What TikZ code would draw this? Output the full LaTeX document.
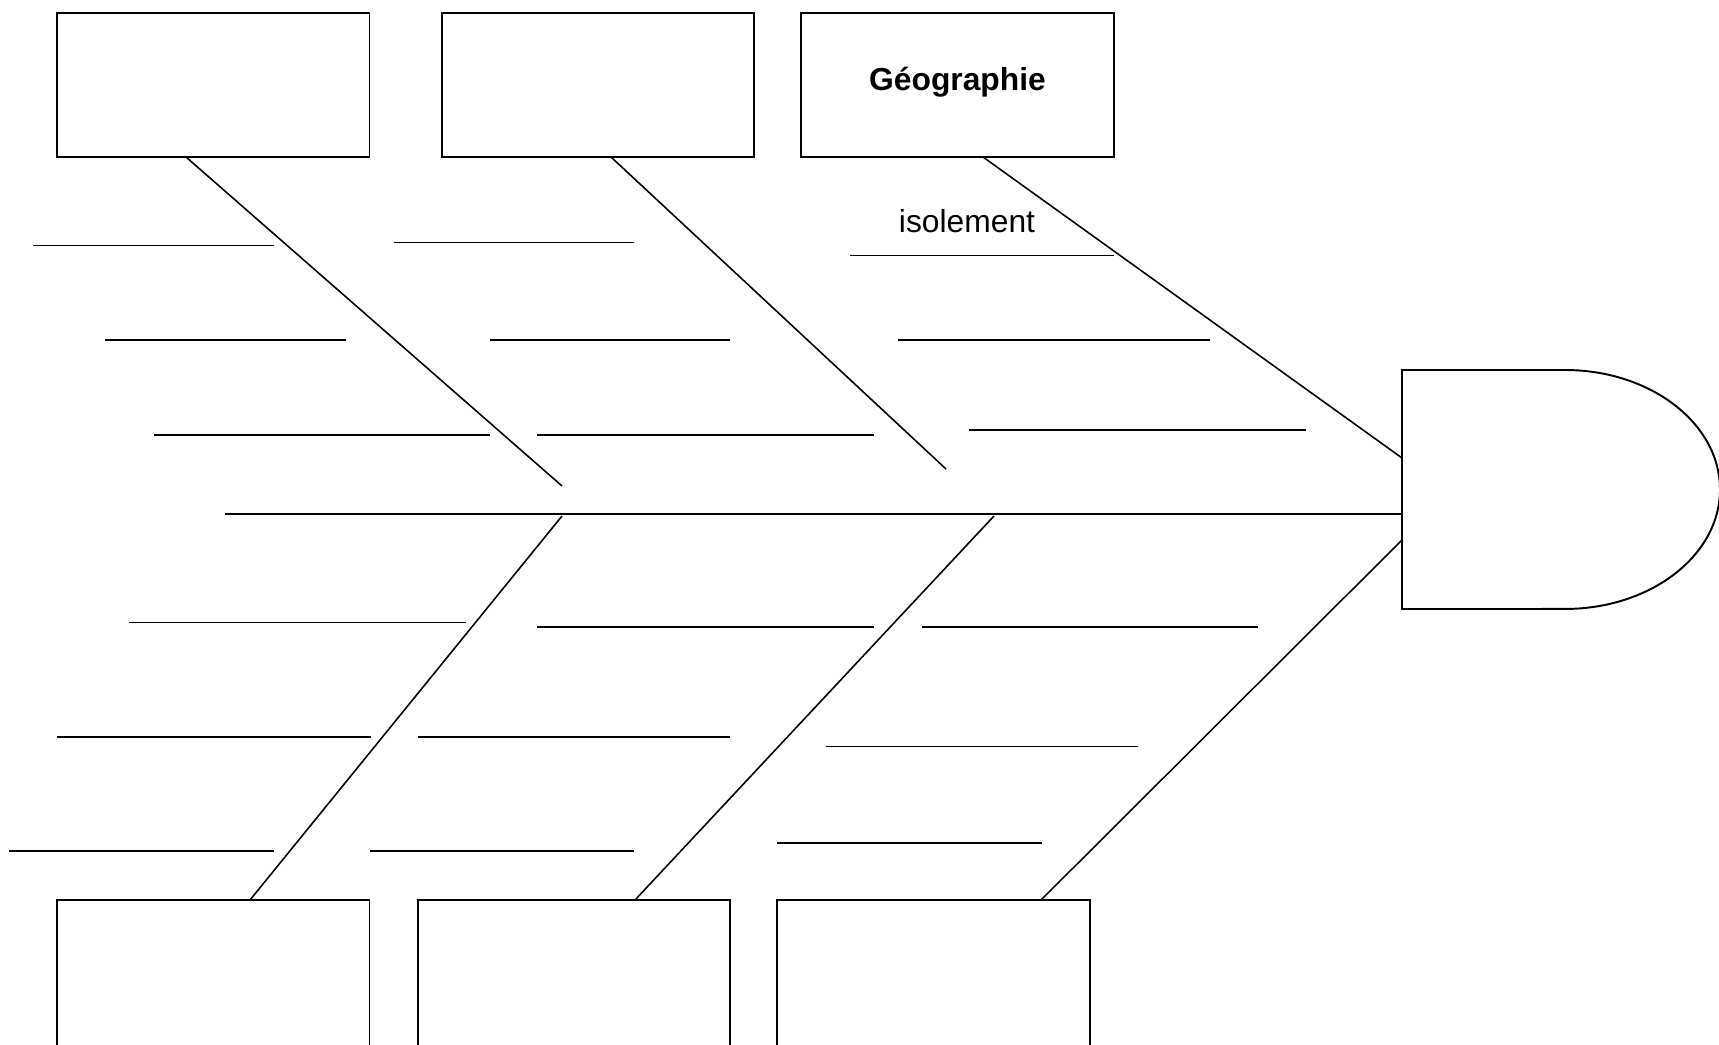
\documentclass[tikz,border=0pt]{standalone}
\usepackage{fontspec}
\setmainfont{Liberation Sans}
\begin{document}
\begin{tikzpicture}[x=0.02cm,y=-0.02cm,
  catbox/.style={draw, line width=1.1pt, minimum width=6.25cm, minimum height=2.88cm, inner sep=0pt, outer sep=0pt},
  bone/.style={line width=0.9pt},
  lbl/.style={font=\fontsize{18.1}{21}\selectfont, inner sep=0pt, anchor=base}]
\useasboundingbox (0,0) rectangle (1719,1044);
\clip (0,0) rectangle (1719,1044);
\fill[white] (0,0) rectangle (1719,1044);
% category boxes
\node[catbox] (b1) at (213.25,85) {};
\node[catbox] (b2) at (598,85) {};
\node[catbox] (b3) at (957.5,85) {};
\node[catbox, minimum height=3.2cm] (c1) at (213.25,980) {};
\node[catbox, minimum height=3.2cm] (c2) at (574,980) {};
\node[catbox, minimum height=3.2cm] (c3) at (933.5,980) {};
% head
\draw[line width=1.1pt] (1402,370) -- (1565,370) arc[start angle=90, end angle=-90, x radius=3.1cm, y radius=2.39cm] -- (1402,609) -- cycle;
% coordinates
\coordinate (spL) at (225,514);
\coordinate (spR) at (1402,514);
\coordinate (d1s) at (186,157);  \coordinate (d1e) at (562,486);
\coordinate (d2s) at (611,157);  \coordinate (d2e) at (946,469);
\coordinate (d3s) at (983,157);  \coordinate (d3e) at (1402,458);
\coordinate (e1s) at (562,516);  \coordinate (e1e) at (250,900);
\coordinate (e2s) at (994,516);  \coordinate (e2e) at (635,900);
\coordinate (e3s) at (1402,540); \coordinate (e3e) at (1041,900);
% spine and main bones
\draw[bone] (spL) -- (spR);
\draw[bone] (d1s) -- (d1e);
\draw[bone] (d2s) -- (d2e);
\draw[bone] (d3s) -- (d3e);
\draw[bone] (e1s) -- (e1e);
\draw[bone] (e2s) -- (e2e);
\draw[bone] (e3s) -- (e3e);
% small bones, upper
\draw[bone] (33,245.6) -- (274,245.6);
\draw[bone] (394,242.3) -- (634,242.3);
\draw[bone] (850,255.4) -- (1114,255.4);
\draw[bone] (105,339.9) -- (346,339.9);
\draw[bone] (490,339.9) -- (730,339.9);
\draw[bone] (898,339.9) -- (1210,339.9);
\draw[bone] (153.5,435) -- (490,435);
\draw[bone] (537,435) -- (874,435);
\draw[bone] (969,429.8) -- (1306,429.8);
% small bones, lower
\draw[bone] (129,622.7) -- (466,622.7);
\draw[bone] (537,627) -- (874,627);
\draw[bone] (922,627) -- (1257.5,627);
\draw[bone] (57,736.7) -- (370.5,736.7);
\draw[bone] (418,736.7) -- (730,736.7);
\draw[bone] (825.5,746.6) -- (1138,746.6);
\draw[bone] (9,850.7) -- (274,850.7);
\draw[bone] (369.5,850.7) -- (634,850.7);
\draw[bone] (777,843) -- (1041.5,843);
% labels
\node[lbl, font=\fontsize{18.1}{21}\selectfont\bfseries] (geo) at (957.5,91) {Géographie};
\node[lbl] (iso) at (967,233) {isolement};
\end{tikzpicture}
\end{document}
